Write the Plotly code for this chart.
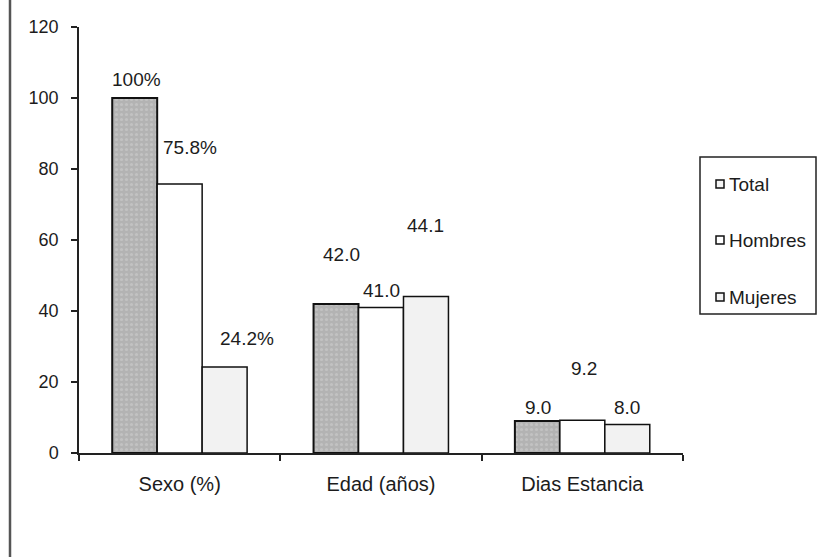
import plotly.graph_objects as go

# Data
categories = ["Sexo (%)", "Edad (años)", "Dias Estancia"]
series_names = ["Total", "Hombres", "Mujeres"]
total = [100, 42.0, 9.0]
hombres = [75.8, 41.0, 9.2]
mujeres = [24.2, 44.1, 8.0]
y_ticks = [0, 20, 40, 60, 80, 100, 120]

# Styling
W, H = 820, 557
M_L, M_R, M_T, M_B = 79, 137, 27, 104
FONT = "Arial, 'Liberation Sans', sans-serif"
INK = "#1c1c1c"

# Hand-placed label nudges (dx px, lift px above bar top) per category, per series
label_nudge = [
    [(2, 19), (10, 36), (22, 29)],
    [(5, 49), (0, 17), (0, 71)],
    [(1, 14), (2, 52), (0, 17)],
]

plot_w = W - M_L - M_R
plot_h = H - M_T - M_B


def px_x(p):
    return (p - M_L) / plot_w


def px_y(p):
    return (H - M_B - p) / plot_h


fig = go.Figure()

series = [total, hombres, mujeres]
fills = [
    dict(color="#b6b6b6", pattern=dict(shape=".", fgcolor="#d2d2d2", bgcolor="#b3b3b3", size=5, solidity=0.3)),
    dict(color="#ffffff"),
    dict(color="#f2f2f2"),
]
outline_w = [2, 1.5, 1.5]
for name, vals, fill, lw in zip(series_names, series, fills, outline_w):
    fig.add_trace(go.Bar(
        x=categories, y=vals, name=name, showlegend=False,
        marker=dict(**fill, line=dict(color="#111111", width=lw)),
        hoverinfo="skip",
    ))


def fmt(ci, v):
    if ci == 0:
        return f"{v:g}%"
    return f"{v:.1f}"


bar_px = plot_w / len(categories) * (1 - 0.33) / len(series)
annotations = []
for si, vals in enumerate(series):
    for ci, v in enumerate(vals):
        dx, lift = label_nudge[ci][si]
        annotations.append(dict(
            x=categories[ci], y=v, xref="x", yref="y",
            text=fmt(ci, v), showarrow=False,
            xshift=(si - 1) * bar_px + dx, yshift=lift,
            xanchor="center", yanchor="middle",
            font=dict(family=FONT, size=19, color=INK),
        ))

# Legend box with swatches and names
shapes = [
    dict(type="rect", xref="paper", yref="paper",
         x0=px_x(700), x1=px_x(816), y0=px_y(314), y1=px_y(157),
         line=dict(color="#222222", width=1.5), fillcolor="rgba(0,0,0,0)"),
    # frame line on the left edge
    dict(type="line", xref="paper", yref="paper",
         x0=px_x(10), x1=px_x(10), y0=px_y(0), y1=px_y(557),
         line=dict(color="#555555", width=2.5)),
]
legend_y = [184, 240, 297]
swatch_fill = ["#f4f4f4", "#ffffff", "#f4f4f4"]
for name, ly, sf in zip(series_names, legend_y, swatch_fill):
    shapes.append(dict(type="rect", xref="paper", yref="paper",
                       x0=px_x(716), x1=px_x(724), y0=px_y(ly + 4), y1=px_y(ly - 4),
                       line=dict(color="#111111", width=1.5), fillcolor=sf))
    annotations.append(dict(
        x=px_x(727), y=px_y(ly), xref="paper", yref="paper",
        text=name, showarrow=False, xanchor="left", yanchor="middle",
        font=dict(family=FONT, size=19, color=INK),
    ))

fig.update_layout(
    width=W, height=H,
    margin=dict(l=M_L, r=M_R, t=M_T, b=M_B),
    paper_bgcolor="white", plot_bgcolor="white",
    barmode="group", bargap=0.33, bargroupgap=0,
    showlegend=False,
    annotations=annotations, shapes=shapes,
    font=dict(family=FONT, color=INK),
)
fig.update_xaxes(
    showline=True, linecolor="#222222", linewidth=1.5,
    ticks="outside", tickson="boundaries", ticklen=6, tickcolor="#222222", tickwidth=1.5,
    tickfont=dict(family=FONT, size=20, color=INK), ticklabelstandoff=12,
    showgrid=False, zeroline=False,
)
fig.update_yaxes(
    range=[0, 120], tickvals=y_ticks,
    showline=True, linecolor="#222222", linewidth=1.5,
    ticks="outside", ticklen=6, tickcolor="#222222", tickwidth=1.5,
    tickfont=dict(family=FONT, size=18, color=INK), ticklabelstandoff=9,
    showgrid=False, zeroline=False,
)

fig.write_html("out.html")
